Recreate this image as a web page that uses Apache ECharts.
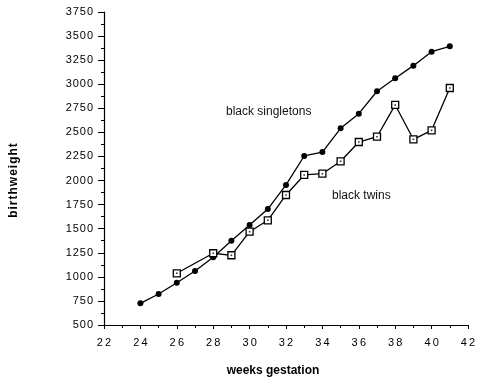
<!DOCTYPE html>
<html>
<head>
<meta charset="utf-8">
<script src="https://cdn.jsdelivr.net/npm/echarts@6/dist/echarts.min.js"></script>
<style>
  html, body { margin: 0; padding: 0; background: #fff; }
  #chart { width: 480px; height: 377px; }
</style>
</head>
<body>
<div id="chart"></div>
<script>
// weeks of gestation
const weeksSingle = [24, 25, 26, 27, 28, 29, 30, 31, 32, 33, 34, 35, 36, 37, 38, 39, 40, 41];
const singletons = [725, 822, 939, 1061, 1203, 1375, 1538, 1704, 1954, 2255, 2296, 2542, 2694, 2927, 3062, 3193, 3338, 3394];
const weeksTwins = [26, 28, 29, 30, 31, 32, 33, 34, 35, 36, 37, 38, 39, 40, 41];
const twins = [1037, 1245, 1224, 1469, 1587, 1850, 2058, 2071, 2200, 2400, 2455, 2785, 2428, 2521, 2961];

const FONT = '"Liberation Sans", Arial, sans-serif';
// the scanned labels are a bit letter-spaced; hair/thin spaces fake that
const spaced = (s, sp) => String(s).split("").join(sp);

const pairs = (xs, ys) => xs.map((x, i) => [x, ys[i]]);

const chart = echarts.init(document.getElementById("chart"), null, { renderer: "canvas" });

chart.setOption({
  animation: false,
  grid: { left: 104, right: 12, top: 12, bottom: 52, containLabel: false, outerBoundsMode: "none" },
  xAxis: {
    type: "value",
    min: 22, max: 42, interval: 2,
    splitLine: { show: false },
    axisLine: { lineStyle: { color: "#000", width: 1.2 } },
    axisTick: { length: 4, lineStyle: { color: "#000" } },
    minorTick: { show: true, splitNumber: 2, length: 3, lineStyle: { color: "#000" } },
    axisLabel: {
      color: "#000", fontFamily: FONT, fontSize: 11, margin: 12,
      formatter: (v) => spaced(v, "\u2009"),
    },
    name: "weeks gestation",
    nameLocation: "middle",
    nameGap: 40,
    nameTextStyle: { color: "#000", fontFamily: FONT, fontSize: 12, fontWeight: "bold", padding: [0, 26, 0, 0] },
  },
  yAxis: {
    type: "value",
    min: 500, max: 3750, interval: 250,
    splitLine: { show: false },
    axisLine: { lineStyle: { color: "#000", width: 1.2 } },
    axisTick: { length: 6, lineStyle: { color: "#000" } },
    minorTick: { show: true, splitNumber: 2, length: 3, lineStyle: { color: "#000" } },
    axisLabel: {
      color: "#000", fontFamily: FONT, fontSize: 11, margin: 11,
      formatter: (v) => spaced(v, "\u200A"),
    },
    name: spaced("birthweight", "\u200A"),
    nameLocation: "middle",
    nameRotate: 90,
    nameGap: 84,
    nameTextStyle: { color: "#000", fontFamily: FONT, fontSize: 12, fontWeight: "bold", padding: [0, 24, 0, 0] },
  },
  graphic: [
    { type: "text", left: 226, top: 106, style: { text: "black singletons", font: "12px " + FONT, fill: "#111" } },
    { type: "text", left: 332, top: 190, style: { text: "black twins", font: "12px " + FONT, fill: "#111" } },
  ],
  series: [
    {
      name: "black singletons",
      type: "line",
      data: pairs(weeksSingle, singletons),
      symbol: "circle",
      symbolSize: 6,
      lineStyle: { color: "#000", width: 1.3 },
      itemStyle: { color: "#000" },
      z: 3,
    },
    {
      name: "black twins",
      type: "line",
      data: pairs(weeksTwins, twins),
      symbol: "rect",
      symbolSize: 7,
      lineStyle: { color: "#000", width: 1.3 },
      itemStyle: { color: "#fff", borderColor: "#000", borderWidth: 1.3 },
      z: 4,
    },
    {
      // centre dot inside each twin square
      name: "twin dots",
      type: "scatter",
      data: pairs(weeksTwins, twins),
      symbol: "rect",
      symbolSize: 1.6,
      itemStyle: { color: "#000" },
      z: 5,
    },
  ],
});
</script>
</body>
</html>
